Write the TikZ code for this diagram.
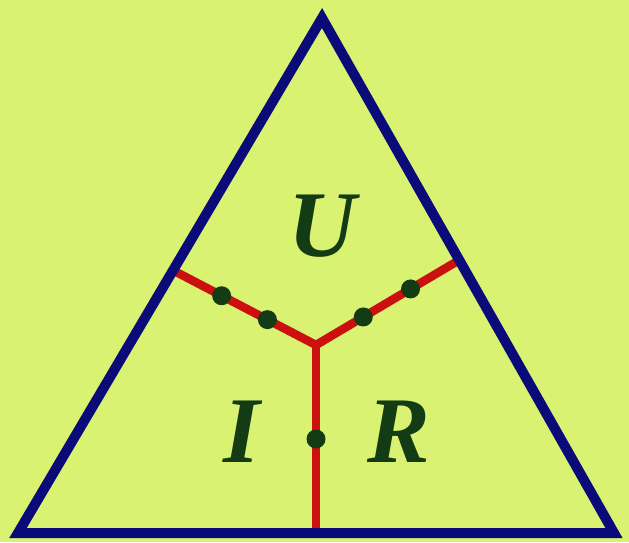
\documentclass[tikz,border=0pt]{standalone}
\usepackage{tikz}
\usepackage{xcolor}
\usepackage{fontspec}
\setmainfont{Liberation Serif}
\usetikzlibrary{calc}
\definecolor{cBg}{HTML}{D9F272}
\definecolor{cEdge}{HTML}{0A0A78}
\definecolor{cWire}{HTML}{CC1010}
\definecolor{cInk}{HTML}{143C14}
\tikzset{
  dot/.style={circle,fill=cInk,inner sep=0pt,minimum size=19pt},
  edgeline/.style={cEdge,line width=10pt,line join=miter},
  wire/.style={cWire,line width=8.5pt},
  letter/.style={cInk,font=\fontsize{94}{94}\selectfont\bfseries\itshape},
}

\begin{document}
\begin{tikzpicture}[x=1pt,y=-1pt]
  \fill[cBg] (0,0) rectangle (629,542);
  \useasboundingbox (0,0) rectangle (629,542);

  \coordinate (apex) at (322,18);
  \coordinate (bl) at (18,533);
  \coordinate (br) at (614,533);
  \coordinate (mid) at (316,345);
  \coordinate (lend) at ($(bl)!0.51!(apex)$);
  \coordinate (rend) at ($(br)!0.53!(apex)$);
  \coordinate (bend) at (316,533);

  % wires with their dots
  \draw[wire] (mid) -- (lend)
    node[dot,pos=0.34] (l1) {} node[dot,pos=0.66] (l2) {};
  \draw[wire] (mid) -- (rend)
    node[dot,pos=0.33] (r1) {} node[dot,pos=0.66] (r2) {};
  \draw[wire] (mid) -- (bend) node[dot,pos=0.5] (b1) {};

  \draw[edgeline] (apex) -- (br) -- (bl) -- cycle;

  \node[letter] (u) at (322,226) {U};
  \node[letter] (i) at (242,432) {I};
  \node[letter] (r) at (399,432) {R};
\end{tikzpicture}
\end{document}
